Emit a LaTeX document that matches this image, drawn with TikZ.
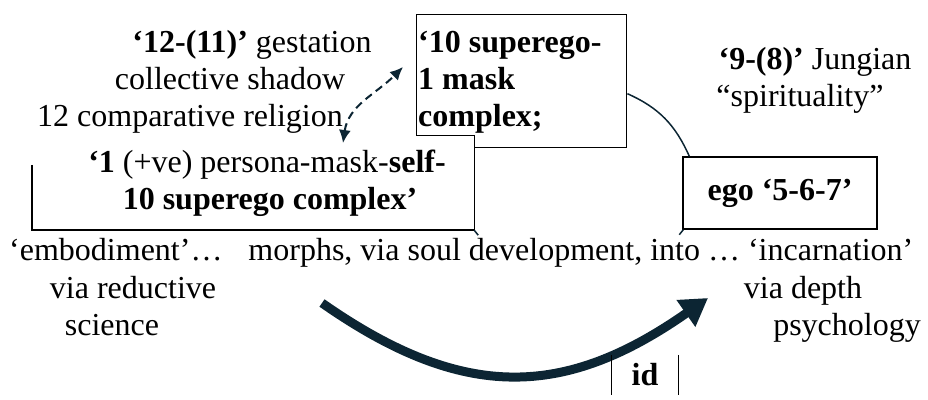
\documentclass[tikz,border=0pt]{standalone}
\usepackage{fontspec}
\setmainfont{Liberation Serif}
\usetikzlibrary{arrows.meta}
\definecolor{navy}{RGB}{12,37,51}
\begin{document}
\begin{tikzpicture}[x=1pt,y=1pt,
  txt/.style={inner sep=0pt, font=\fontsize{32}{37}\selectfont},
  btxt/.style={inner sep=0pt, font=\bfseries\fontsize{32}{37}\selectfont},
  boxline/.style={line width=1.4pt, draw=black},
  navyline/.style={draw=navy, line width=1.5pt}]
\useasboundingbox (0,0) rectangle (928,399);

% top box
\node[boxline, fill=white, anchor=north west, minimum width=210pt, minimum height=133pt, inner sep=0pt] (sup) at (416,385) {};
\node[btxt, anchor=base west] (supa) at (418,346) {‘10 superego-};
\node[btxt, anchor=base west] (supb) at (418,309) {1 mask};
\node[btxt, anchor=base west] (supc) at (418,272) {complex;};

% left box (partly hidden)
\node[fill=white, minimum width=442pt, minimum height=94pt, inner sep=0pt] (lb) at (253,216) {};
\draw[boxline] ([yshift=-29pt]lb.north west) -- (lb.south west) -- (lb.south east) -- (lb.north east) -- ([xshift=-57pt]lb.north east);
\node[txt, anchor=base] (lbt1) at (267,226) {\textbf{‘1} (+ve) persona-mask-\textbf{self-}};
\node[btxt, anchor=base] (lbt2) at (270,189) {10 superego complex’};

% upper left text
\node[txt, anchor=base] (l1) at (252,346) {\textbf{‘12-(11)’} gestation};
\node[txt, anchor=base] (l2) at (230,309) {collective shadow};
\node[txt, anchor=base] (l3) at (190,272) {12 comparative religion};

% dashed double arrow
\coordinate (da1) at (343,256);
\coordinate (da2) at (403,332);
\draw[navyline, line width=2pt, dash pattern=on 8pt off 5pt,
  {Latex[length=13pt,width=12pt]}-{Latex[length=13pt,width=12pt]}]
  (da1) to[out=82, in=225] (da2);

% upper right text
\node[txt, anchor=base] (j1) at (815,329) {\textbf{‘9-(8)’} Jungian};
\node[txt, anchor=base] (j2) at (800,292) {“spirituality”};

% ego box
\node[boxline, fill=white, minimum width=194pt, minimum height=72pt, btxt] (ego) at (780,206) {ego ‘5-6-7’};

% arc
\draw[navyline] ([yshift=-12.5pt]sup.east) to[out=-24, in=114] ([xshift=7pt]ego.north west);
\draw[navyline] (lb.south east) -- ++(4pt,-5pt);
\draw[navyline] ([xshift=1pt]ego.south west) -- ++(-4pt,-5pt);

% bottom text row
\node[txt, anchor=base west] (row) at (9,139) {‘embodiment’…\hspace{26pt}morphs, via soul development, into … ‘incarnation’};
\node[txt, anchor=base] (vr) at (133,101) {via reductive};
\node[txt, anchor=base] (sc) at (112,64) {science};
\node[txt, anchor=base] (vd) at (803,101) {via depth};
\node[txt, anchor=base east] (ps) at (921,64) {psychology};

% big arrow
\coordinate (as) at (322,96);
\coordinate (ae) at (708,101);
\draw[draw=navy, line width=9pt, -{Triangle[length=27pt,width=31pt]}]
  (as) to[out=-35, in=215, looseness=1.15] (ae);

% id
\node[btxt, minimum height=40pt, minimum width=67pt] (id) at (645,24) {id};
\draw[boxline] (id.north west) -- (id.south west);
\draw[boxline] (id.north east) -- (id.south east);
\end{tikzpicture}
\end{document}
